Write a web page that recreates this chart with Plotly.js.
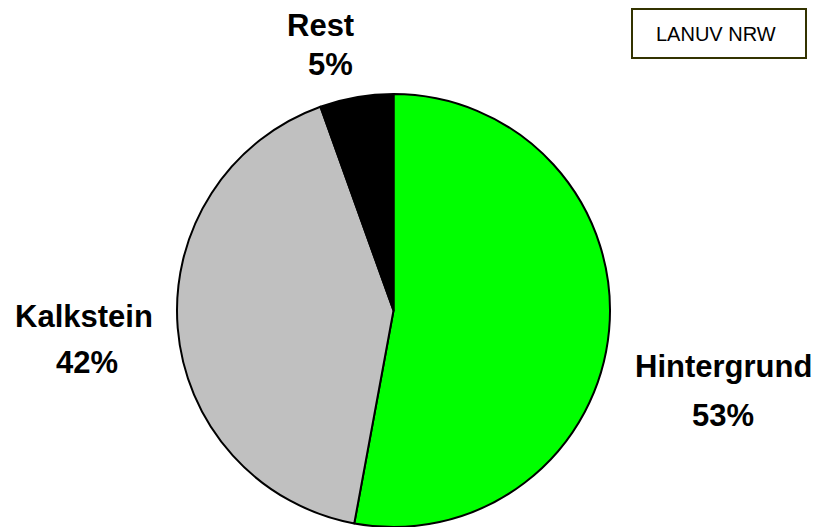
<!DOCTYPE html>
<html>
<head>
<meta charset="utf-8">
<script src="https://cdn.plot.ly/plotly-3.0.1.min.js"></script>
<style>html,body{margin:0;padding:0;background:#fff;}#chart{width:817px;height:527px;}</style>
</head>
<body>
<div id="chart"></div>
<script>
const categories = ["Hintergrund", "Kalkstein", "Rest"];
const shares = [52.9, 41.62, 5.48];
const sliceColors = ["#00ff00", "#c0c0c0", "#000000"];
const sourceLabel = "LANUV NRW";

const W = 817, H = 527;
const px = x => x / W;
const py = y => 1 - y / H;

const labelPos = {
  "Hintergrund": [[723, 366], [723, 415]],
  "Kalkstein": [[84, 316], [87, 362]],
  "Rest": [[320, 25], [330, 64]]
};

const annotations = [];
categories.forEach((c, i) => {
  const p = labelPos[c];
  annotations.push({x: px(p[0][0]), y: py(p[0][1]), xref: 'paper', yref: 'paper', text: '<b>' + c + '</b>', showarrow: false, xanchor: 'center', yanchor: 'middle', font: {family: 'Liberation Sans, Arial, sans-serif', size: 31, color: '#000'}});
  annotations.push({x: px(p[1][0]), y: py(p[1][1]), xref: 'paper', yref: 'paper', text: '<b>' + Math.round(shares[i]) + '%</b>', showarrow: false, xanchor: 'center', yanchor: 'middle', font: {family: 'Liberation Sans, Arial, sans-serif', size: 31, color: '#000'}});
});
annotations.push({x: px(716), y: py(34), xref: 'paper', yref: 'paper', text: sourceLabel, showarrow: false, xanchor: 'center', yanchor: 'middle', font: {family: 'Liberation Sans, Arial, sans-serif', size: 20, color: '#000'}});

const data = [{
  type: 'pie',
  labels: categories,
  values: shares,
  sort: false,
  direction: 'clockwise',
  rotation: 0,
  textinfo: 'none',
  hoverinfo: 'label+percent',
  marker: {colors: sliceColors, line: {color: '#000', width: 2}},
  domain: {x: [px(176), px(611)], y: [py(527), py(94)]},
  showlegend: false
}];

const layout = {
  width: W, height: H,
  margin: {l: 0, r: 0, t: 0, b: 0},
  paper_bgcolor: '#fff', plot_bgcolor: '#fff',
  showlegend: false,
  annotations: annotations,
  shapes: [{type: 'rect', xref: 'paper', yref: 'paper', x0: px(632), x1: px(806), y0: py(58), y1: py(9), line: {color: '#333300', width: 2}, fillcolor: 'rgba(0,0,0,0)'}]
};

Plotly.newPlot('chart', data, layout, {displayModeBar: false, staticPlot: true});
</script>
</body>
</html>
